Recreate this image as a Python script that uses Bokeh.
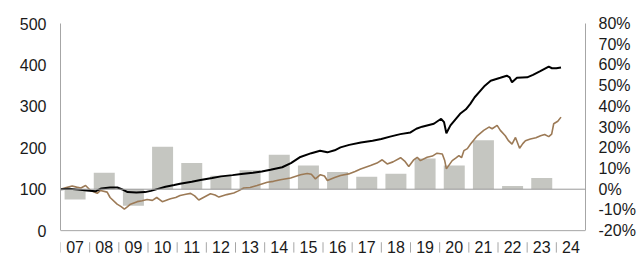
from bokeh.plotting import figure
from bokeh.models import (Range1d, LinearAxis, FixedTicker, CustomJSTickFormatter,
                          Span, ColumnDataSource)
from bokeh.core.properties import value
from bokeh.embed import file_html
from bokeh.resources import INLINE

# ---------------- data ----------------
axis_years = list(range(2007, 2025))
axis_labels = ["07", "08", "09", "10", "11", "12", "13", "14", "15", "16",
               "17", "18", "19", "20", "21", "22", "23", "24"]

bar_years = list(range(2007, 2024))
bar_returns = [-5.0, 8.0, -8.0, 20.5, 12.7, 6.5, 9.1, 16.6, 11.4, 8.3,
               6.0, 7.5, 14.8, 11.4, 23.6, 1.6, 5.4]

black_t = [2007.0, 2007.3, 2007.6, 2007.9, 2008.2, 2008.4, 2008.7, 2008.95, 2009.1,
           2009.3, 2009.6, 2009.9, 2010.1, 2010.4, 2010.6, 2010.9, 2011.1, 2011.5,
           2011.8, 2012.2, 2012.5, 2012.9, 2013.2, 2013.6, 2013.9, 2014.2, 2014.6,
           2014.9, 2015.2, 2015.6, 2015.9, 2016.15, 2016.4, 2016.6, 2016.9, 2017.3,
           2017.7, 2018.0, 2018.3, 2018.65, 2019.0, 2019.2, 2019.4, 2019.8, 2020.05,
           2020.15, 2020.23, 2020.37, 2020.7, 2020.9, 2021.05, 2021.2, 2021.4,
           2021.55, 2021.75, 2022.08, 2022.3, 2022.4, 2022.48, 2022.65, 2023.0,
           2023.2, 2023.45, 2023.74, 2023.85, 2024.0, 2024.16]
black_v = [100, 101, 99, 97, 95, 102, 104, 104, 100,
           93, 92, 93, 96, 102, 106, 110, 113, 118,
           122, 127, 131, 134, 137, 140, 143, 147, 153,
           163, 177, 187, 193, 189, 194, 201, 207, 213,
           217, 221, 227, 233, 237, 246, 251, 258, 270,
           262, 235, 254, 282, 293, 306, 322, 338,
           350, 362, 369, 374, 370, 358, 369, 370,
           376, 385, 396, 392, 392, 394]

brown_t = [2007.0, 2007.2, 2007.4, 2007.55, 2007.7, 2007.86, 2008.03, 2008.26, 2008.37,
           2008.6, 2008.7, 2008.94, 2009.08, 2009.19, 2009.3, 2009.4, 2009.63, 2009.8,
           2009.97, 2010.15, 2010.3, 2010.49, 2010.77, 2010.95, 2011.1, 2011.3, 2011.46,
           2011.6, 2011.74, 2011.9, 2012.14, 2012.3, 2012.43, 2012.7, 2012.94, 2013.1,
           2013.28, 2013.5, 2013.74, 2014.09, 2014.3, 2014.54, 2014.89, 2015.23, 2015.46,
           2015.6, 2015.74, 2015.91, 2016.05, 2016.15, 2016.4, 2016.6, 2016.88, 2017.1,
           2017.29, 2017.63, 2017.85, 2018.03, 2018.2, 2018.4, 2018.66, 2018.8, 2018.94,
           2019.1, 2019.23, 2019.34, 2019.57, 2019.75, 2019.91, 2020.09, 2020.17, 2020.23,
           2020.43, 2020.55, 2020.66, 2020.75, 2020.83, 2020.95, 2021.06, 2021.29, 2021.51,
           2021.69, 2021.8, 2021.97, 2022.08, 2022.25, 2022.35, 2022.48, 2022.6, 2022.74,
           2022.85, 2022.94, 2023.11, 2023.3, 2023.46, 2023.6, 2023.74, 2023.84, 2023.91,
           2024.05, 2024.16]
brown_v = [100, 104, 108, 105, 103, 109, 97, 90, 97,
           93, 80, 64, 58, 52, 58, 64, 70, 72,
           75, 73, 80, 70, 77, 80, 85, 88, 90,
           84, 74, 80, 89, 86, 81, 87, 91, 96,
           103, 104, 109, 117, 119, 123, 127, 135, 138,
           136, 125, 135, 132, 121, 128, 133, 137, 143,
           149, 157, 163, 171, 161, 166, 176, 168, 155,
           170, 177, 169, 177, 180, 187, 185, 170, 149,
           169, 175, 181, 176, 193, 198, 209, 229, 242,
           250, 246, 254, 242, 229, 218, 209, 225, 199,
           210, 217, 221, 224, 229, 232, 227, 233, 258,
           264, 274]

left_ticks = [0, 100, 200, 300, 400, 500]
right_ticks = [-20, -10, 0, 10, 20, 30, 40, 50, 60, 70, 80]

# ---------------- styling ----------------
FONT = "Liberation Sans"
FS = "16px"
TXT = "#1a1a1a"
AXC = "#a6a6a6"
BAR = "#c5c6c1"
BROWN = "#9c7a56"

Y_LO = -60          # extra room below 0 for the year labels
LBL_Y = -40         # label centre (left-axis units)
SEP_Y0, SEP_Y1 = -28, -53

p = figure(width=640, height=255, output_backend="svg", toolbar_location=None,
           x_range=Range1d(2007, 2025), y_range=Range1d(Y_LO, 500),
           min_border_left=60, min_border_right=55, min_border_top=23,
           min_border_bottom=0)
p.extra_y_ranges = {"pct": Range1d((Y_LO - 100) / 5.0, 80)}
p.outline_line_color = None
p.xgrid.visible = False
p.ygrid.visible = False
p.xaxis.visible = False
p.background_fill_color = "white"
p.border_fill_color = "white"

# bars on the percentage axis
bar_src = ColumnDataSource(dict(x=[y + 0.5 for y in bar_years], top=bar_returns))
p.vbar(x="x", top="top", bottom=0, width=0.72, source=bar_src,
       y_range_name="pct", fill_color=BAR, line_color=None)

# baseline at 100 / 0%, and the bottom axis line at 0
p.add_layout(Span(location=100, dimension="width", line_color="#9a9a9a", line_width=1))
p.add_layout(Span(location=0, dimension="width", line_color=AXC, line_width=1))

p.line(brown_t, brown_v, line_color=BROWN, line_width=1.6)
p.line(black_t, black_v, line_color="black", line_width=2)

# year labels centred in each year, gray separators at year starts
lbl_src = ColumnDataSource(dict(x=[y + 0.5 for y in axis_years],
                                y=[LBL_Y] * len(axis_years), text=axis_labels))
p.text(x="x", y="y", text="text", source=lbl_src, text_align="center",
       text_baseline="middle", text_font=value(FONT), text_font_size=FS,
       text_color=TXT)
sep_src = ColumnDataSource(dict(x0=list(axis_years), y0=[SEP_Y0] * len(axis_years),
                                x1=list(axis_years), y1=[SEP_Y1] * len(axis_years)))
p.segment(x0="x0", y0="y0", x1="x1", y1="y1", source=sep_src,
          line_color=AXC, line_width=1)

# left axis
ya = p.yaxis[0]
ya.ticker = FixedTicker(ticks=left_ticks)
ya.bounds = (0, 500)
ya.axis_line_color = AXC
ya.major_tick_line_color = None
ya.minor_tick_line_color = None
ya.major_tick_out = 0
ya.major_tick_in = 0
ya.major_label_standoff = 14
ya.major_label_text_font = FONT
ya.major_label_text_font_size = FS
ya.major_label_text_color = TXT

# right axis
ra = LinearAxis(y_range_name="pct", ticker=FixedTicker(ticks=right_ticks))
ra.bounds = (-20, 80)
ra.formatter = CustomJSTickFormatter(code="return tick + '%';")
ra.axis_line_color = AXC
ra.major_tick_line_color = None
ra.minor_tick_line_color = None
ra.major_tick_out = 0
ra.major_tick_in = 0
ra.major_label_standoff = 13
ra.major_label_text_font = FONT
ra.major_label_text_font_size = FS
ra.major_label_text_color = TXT
p.add_layout(ra, "right")

open("out.html", "w").write(file_html(p, INLINE))
